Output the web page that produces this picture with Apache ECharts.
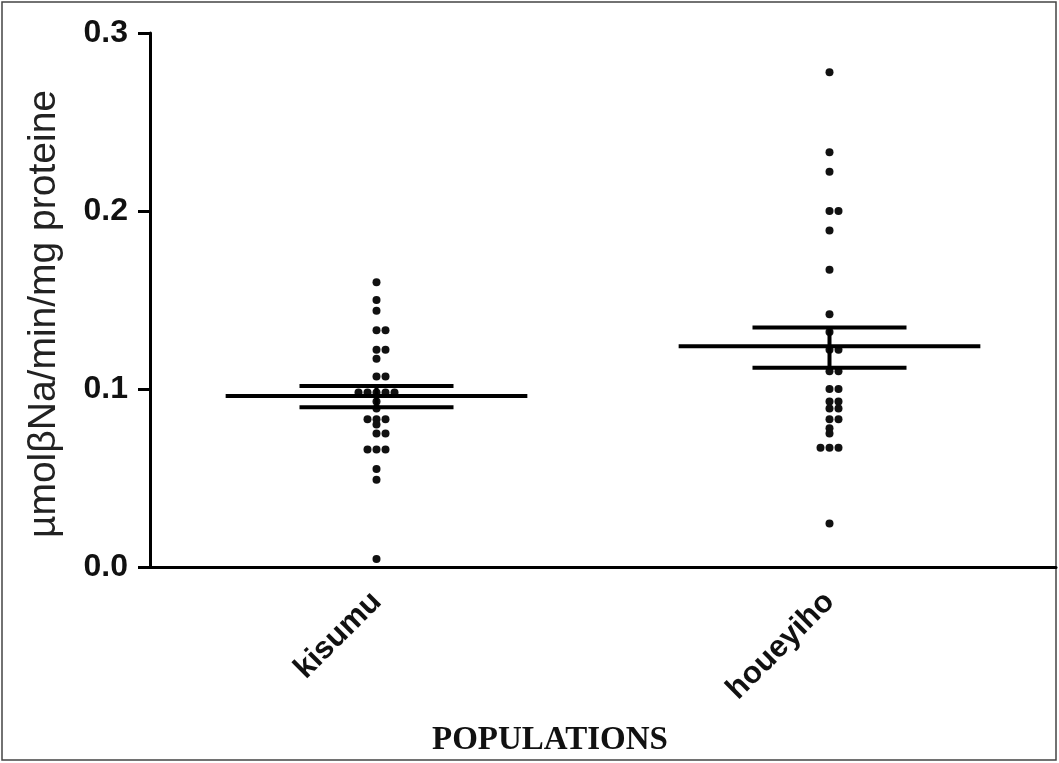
<!DOCTYPE html>
<html>
<head>
<meta charset="utf-8">
<script src="https://cdn.jsdelivr.net/npm/echarts@6/dist/echarts.min.js"></script>
<style>
html,body{margin:0;padding:0;background:#fff;}
#chart{width:1059px;height:763px;}
</style>
</head>
<body>
<div id="chart"></div>
<script>
// ---- data ----
const categories = ['kisumu', 'houeyiho'];
const kisumuValues = [0.160, 0.150, 0.144, 0.133, 0.133, 0.122, 0.122, 0.117, 0.107, 0.107,
  0.098, 0.098, 0.098, 0.098, 0.098, 0.093, 0.089, 0.083, 0.083, 0.083, 0.080,
  0.075, 0.075, 0.066, 0.066, 0.066, 0.055, 0.049, 0.0045];
const houeyihoValues = [0.278, 0.233, 0.222, 0.200, 0.200, 0.189, 0.167, 0.142, 0.132,
  0.122, 0.122, 0.110, 0.110, 0.100, 0.100, 0.093, 0.093, 0.089, 0.089, 0.083, 0.083,
  0.078, 0.075, 0.067, 0.067, 0.067, 0.0245];
const means = [0.096, 0.124];
const semUpper = [0.1017, 0.1345];
const semLower = [0.0897, 0.1120];
const yTicks = [0, 0.1, 0.2, 0.3];
const xTitle = 'POPULATIONS';
const yTitle = 'µmolβNa/min/mg proteine';

// ---- build beeswarm rows (group identical values) ----
function swarm(values, catIndex) {
  const groups = {};
  values.forEach(v => { (groups[v] = groups[v] || []).push(v); });
  const out = [];
  Object.keys(groups).forEach(k => {
    const g = groups[k];
    const n = g.length;
    g.forEach((v, i) => {
      const slot = n === 2 ? (i === 0 ? 0 : 1) : i - (n - 1) / 2;
      out.push([catIndex, v, slot]);
    });
  });
  return out;
}
const dotData = swarm(kisumuValues, 0).concat(swarm(houeyihoValues, 1));
const summaryData = categories.map((c, i) => [i, means[i], semUpper[i], semLower[i]]);

const chart = echarts.init(document.getElementById('chart'), null, {renderer: 'canvas'});
const DOT_STEP = 9;

chart.setOption({
  animation: false,
  backgroundColor: '#ffffff',
  grid: {left: 150, right: 3, top: 33, bottom: 196, containLabel: false},
  xAxis: {
    type: 'category',
    data: categories,
    boundaryGap: true,
    axisLine: {lineStyle: {color: '#000', width: 3}},
    axisTick: {alignWithLabel: true, length: 12, lineStyle: {color: '#000', width: 3}},
    axisLabel: {
      rotate: 45, margin: 30, color: '#111', fontSize: 31, fontWeight: 'bold',
      fontFamily: 'Liberation Sans, Arial, sans-serif'
    },
    splitLine: {show: false}
  },
  yAxis: {
    type: 'value',
    min: yTicks[0], max: yTicks[yTicks.length - 1], interval: 0.1,
    axisLine: {show: true, lineStyle: {color: '#000', width: 3}},
    axisTick: {show: true, length: 12, lineStyle: {color: '#000', width: 3}},
    axisLabel: {
      margin: 22, color: '#111', fontSize: 32, fontWeight: 'bold',
      fontFamily: 'Liberation Sans, Arial, sans-serif',
      formatter: v => v.toFixed(1)
    },
    splitLine: {show: false}
  },
  graphic: [
    {type: 'rect', shape: {x: 2, y: 2, width: 1054, height: 758},
      style: {fill: 'none', stroke: '#444', lineWidth: 1.5}, silent: true},
    {type: 'text', x: 44, y: 314, rotation: Math.PI / 2,
      style: {text: yTitle, fontSize: 39, fill: '#222',
        fontFamily: 'Liberation Sans, Arial, sans-serif',
        align: 'center', verticalAlign: 'middle'}},
    {type: 'text', x: 550, y: 740,
      style: {text: xTitle, fontSize: 33, fontWeight: 'bold', fill: '#111',
        fontFamily: 'Liberation Serif, Times New Roman, serif',
        align: 'center', verticalAlign: 'middle'}}
  ],
  series: [
    {
      type: 'custom',
      name: 'points',
      data: dotData,
      encode: {x: 0, y: 1},
      z: 2,
      renderItem: function (params, api) {
        const p = api.coord([api.value(0), api.value(1)]);
        return {
          type: 'circle',
          shape: {cx: p[0] + api.value(2) * DOT_STEP, cy: p[1], r: 4},
          style: {fill: '#111'}
        };
      }
    },
    {
      type: 'custom',
      name: 'mean ± SEM',
      data: summaryData,
      encode: {x: 0, y: [1, 2, 3]},
      z: 3,
      renderItem: function (params, api) {
        const band = api.size([1, 0])[0];
        const m = api.coord([api.value(0), api.value(1)]);
        const u = api.coord([api.value(0), api.value(2)]);
        const l = api.coord([api.value(0), api.value(3)]);
        const halfMean = band * 0.333;
        const halfSem = band * 0.17;
        const st = {stroke: '#000', lineWidth: 4};
        return {
          type: 'group',
          children: [
            {type: 'line', shape: {x1: m[0] - halfMean, y1: m[1], x2: m[0] + halfMean, y2: m[1]}, style: st},
            {type: 'line', shape: {x1: u[0] - halfSem, y1: u[1], x2: u[0] + halfSem, y2: u[1]}, style: st},
            {type: 'line', shape: {x1: l[0] - halfSem, y1: l[1], x2: l[0] + halfSem, y2: l[1]}, style: st},
            {type: 'line', shape: {x1: u[0], y1: u[1], x2: l[0], y2: l[1]}, style: st}
          ]
        };
      }
    }
  ]
});
</script>
</body>
</html>
